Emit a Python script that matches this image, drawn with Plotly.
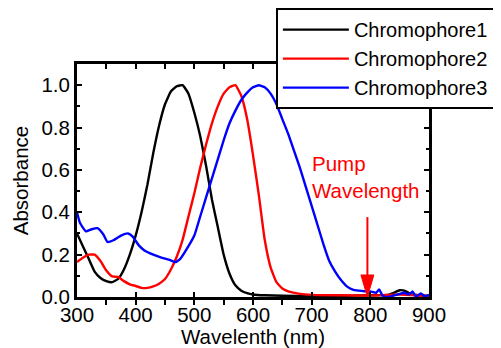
import plotly.graph_objects as go

# ---------------- data ----------------
wl1 = [300, 310, 320, 330, 340, 350, 360, 370, 380, 390, 400, 410, 420, 430, 440,
       450, 460, 470, 480, 490, 500, 510, 520, 530, 540, 550, 560, 570, 580, 590,
       600, 620, 650, 700, 750, 800, 830, 840, 850, 860, 870, 900]
abs1 = [0.30, 0.24, 0.18, 0.12, 0.09, 0.075, 0.07, 0.085, 0.13, 0.20, 0.29, 0.40, 0.53, 0.68, 0.81,
        0.91, 0.97, 0.995, 1.0, 0.96, 0.87, 0.76, 0.62, 0.46, 0.33, 0.20, 0.11, 0.055, 0.03, 0.018,
        0.012, 0.008, 0.006, 0.005, 0.005, 0.008, 0.01, 0.02, 0.032, 0.028, 0.012, 0.005]

wl2 = [300, 310, 320, 330, 340, 350, 360, 370, 380, 390, 400, 410, 420, 430, 440, 450,
       460, 470, 480, 490, 500, 510, 520, 530, 540, 550, 560, 570, 580, 590, 600, 610,
       620, 630, 640, 650, 660, 680, 700, 750, 800, 850, 900]
abs2 = [0.165, 0.185, 0.20, 0.20, 0.17, 0.125, 0.097, 0.095, 0.075, 0.06, 0.052, 0.043, 0.043, 0.05, 0.063, 0.085,
        0.13, 0.19, 0.27, 0.38, 0.49, 0.61, 0.72, 0.82, 0.90, 0.96, 0.99, 1.0, 0.95, 0.84, 0.67, 0.48,
        0.27, 0.14, 0.07, 0.04, 0.027, 0.015, 0.01, 0.008, 0.007, 0.012, 0.004]

wl3 = [300, 305, 315, 325, 335, 345, 352, 362, 375, 387, 395, 405, 415, 430, 445, 458, 468, 476,
       490, 500, 510, 520, 530, 540, 550, 560, 570, 580, 590, 600, 610, 620, 630, 640, 650, 660,
       670, 680, 690, 700, 710, 720, 730, 740, 750, 760, 770, 780, 790, 800, 810, 815, 820, 825,
       835, 847, 858, 866, 872, 878, 886, 893, 900]
abs3 = [0.40, 0.35, 0.31, 0.32, 0.325, 0.295, 0.26, 0.268, 0.29, 0.30, 0.285, 0.245, 0.22, 0.20, 0.185, 0.175, 0.165, 0.18,
        0.24, 0.29, 0.38, 0.47, 0.56, 0.65, 0.74, 0.82, 0.88, 0.93, 0.965, 0.99, 1.0, 0.99, 0.96, 0.91, 0.84, 0.77,
        0.69, 0.61, 0.52, 0.43, 0.34, 0.25, 0.17, 0.12, 0.08, 0.05, 0.035, 0.03, 0.027, 0.026, 0.02, 0.036, 0.01, 0.0,
        0.003, 0.012, 0.02, 0.012, 0.026, 0.0, 0.017, 0.003, 0.01]

series_names = ["Chromophore1", "Chromophore2", "Chromophore3"]
series_colors = ["#000000", "#ff0000", "#0000ff"]

x_ticks = [300, 400, 500, 600, 700, 800, 900]
y_ticks = [0.0, 0.2, 0.4, 0.6, 0.8, 1.0]

pump_nm = 795
pump_label = "Pump<br>Wavelength"

FONT = "Liberation Sans, Arial, sans-serif"
FS = 20.5

fig = go.Figure()
for wl, ab, name, col in zip([wl1, wl2, wl3], [abs1, abs2, abs3], series_names, series_colors):
    fig.add_trace(go.Scatter(x=wl, y=ab, mode="lines", name=name,
                             line=dict(color=col, width=2.4, shape="spline", smoothing=0.4)))

# empty helper trace so the top (tick-only) axis is drawn
fig.add_trace(go.Scatter(x=[x_ticks[0], x_ticks[-1]], y=[None, None], xaxis="x2", yaxis="y",
                         mode="lines", showlegend=False, hoverinfo="skip"))

# pump arrow (data coordinates)
fig.add_shape(type="line", xref="x", yref="y", x0=pump_nm, x1=pump_nm, y0=0.09, y1=0.377,
              line=dict(color="#ff0000", width=2))
fig.add_shape(type="path", xref="x", yref="y",
              path=f"M {pump_nm - 11},0.104 L {pump_nm + 11},0.104 L {pump_nm},0.0 Z",
              fillcolor="#ff0000", line=dict(color="#ff0000", width=1))
fig.add_annotation(x=698, y=0.568, xref="x", yref="y", text=pump_label, showarrow=False,
                   xanchor="left", yanchor="middle", align="left",
                   font=dict(family=FONT, size=FS, color="#ff0000"))

axis_common = dict(showgrid=False, zeroline=False, showline=True, linecolor="black",
                   linewidth=3, ticks="inside", ticklen=5, tickwidth=2,
                   tickcolor="black", tickfont=dict(family=FONT, size=FS, color="black"))

fig.update_layout(
    xaxis=dict(range=[300, 900], tickvals=x_ticks, ticktext=[str(v) for v in x_ticks],
               mirror=True, ticklabelstandoff=-3,
               title=dict(text="Wavelenth (nm)", font=dict(family=FONT, size=FS, color="black"), standoff=3),
               minor=dict(ticks="outside", dtick=50, tick0=300, ticklen=5, tickwidth=2, tickcolor="black"),
               **axis_common),
    yaxis=dict(range=[0, 1.1], tickvals=y_ticks, ticktext=[f"{v:.1f}" for v in y_ticks],
               mirror="ticks",
               title=dict(text="Absorbance", font=dict(family=FONT, size=FS, color="black"), standoff=8),
               minor=dict(ticks="inside", dtick=0.1, tick0=0, ticklen=3, tickwidth=2, tickcolor="black"),
               **axis_common),
    xaxis2=dict(overlaying="x", range=[300, 900], side="top", showline=False, showgrid=False,
                zeroline=False, showticklabels=False, tickvals=x_ticks, ticks="inside",
                ticklen=5, tickwidth=2, tickcolor="black",
                minor=dict(ticks="inside", dtick=50, tick0=300, ticklen=5, tickwidth=2, tickcolor="black")),
)

# the page body adds an 8px offset, so the figure is 8px smaller than the window
fig.update_layout(
    width=493, height=340,
    margin=dict(l=69, r=72, t=56, b=51, autoexpand=False),
    paper_bgcolor="white", plot_bgcolor="white",
    font=dict(family=FONT, size=FS, color="black"),
    showlegend=True,
    legend=dict(x=0.565, y=1.24, xanchor="left", yanchor="top",
                bgcolor="white", bordercolor="black", borderwidth=2,
                font=dict(family=FONT, size=20, color="black"),
                itemwidth=66, tracegroupgap=0),
)

fig.write_html("out.html")
